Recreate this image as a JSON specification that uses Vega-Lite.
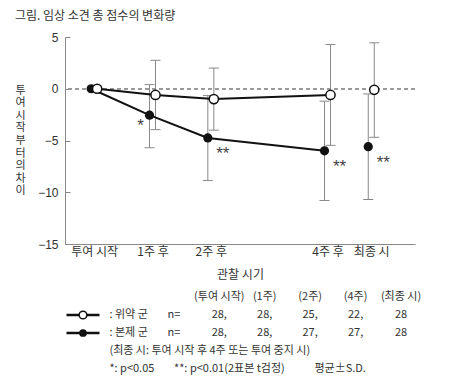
{
  "$schema": "https://vega.github.io/schema/vega-lite/v6.json",
  "padding": {"left": 14, "top": 10, "right": 5, "bottom": 5},
  "title": {"text": "그림. 임상 소견 총 점수의 변화량", "anchor": "start", "fontSize": 12, "fontWeight": "normal", "color": "#333", "font": "Noto Sans CJK KR", "offset": 8},
  "spacing": 8,
  "datasets": {
    "stats": [
      {"group": "위약 군", "time": "투여 시작", "week": 0, "mean": 0, "lo": 0, "hi": 0, "sig": ""},
      {"group": "위약 군", "time": "1주 후", "week": 1, "mean": -0.6, "lo": -3.95, "hi": 2.75, "sig": ""},
      {"group": "위약 군", "time": "2주 후", "week": 2, "mean": -1.0, "lo": -4.0, "hi": 2.0, "sig": ""},
      {"group": "위약 군", "time": "4주 후", "week": 4, "mean": -0.6, "lo": -5.47, "hi": 4.27, "sig": ""},
      {"group": "위약 군", "time": "최종 시", "week": 4.75, "mean": -0.1, "lo": -4.69, "hi": 4.44, "sig": ""},
      {"group": "본제 군", "time": "투여 시작", "week": 0, "mean": 0, "lo": 0, "hi": 0, "sig": ""},
      {"group": "본제 군", "time": "1주 후", "week": 1, "mean": -2.55, "lo": -5.7, "hi": 0.4, "sig": "*"},
      {"group": "본제 군", "time": "2주 후", "week": 2, "mean": -4.75, "lo": -8.86, "hi": -0.66, "sig": "**"},
      {"group": "본제 군", "time": "4주 후", "week": 4, "mean": -6.0, "lo": -10.8, "hi": -1.2, "sig": "**"},
      {"group": "본제 군", "time": "최종 시", "week": 4.75, "mean": -5.6, "lo": -10.7, "hi": -0.5, "sig": "**"}
    ],
    "table": [
      {"row": "hdr", "col": "c0", "text": "(투여 시작)"},
      {"row": "hdr", "col": "c1", "text": "(1주)"},
      {"row": "hdr", "col": "c2", "text": "(2주)"},
      {"row": "hdr", "col": "c4", "text": "(4주)"},
      {"row": "hdr", "col": "cf", "text": "(최종 시)"},
      {"row": "p", "col": "sym", "text": ""},
      {"row": "p", "col": "name", "text": ": 위약 군"},
      {"row": "p", "col": "n", "text": "n="},
      {"row": "p", "col": "c0", "text": "28,"},
      {"row": "p", "col": "c1", "text": "28,"},
      {"row": "p", "col": "c2", "text": "25,"},
      {"row": "p", "col": "c4", "text": "22,"},
      {"row": "p", "col": "cf", "text": "28"},
      {"row": "d", "col": "sym", "text": ""},
      {"row": "d", "col": "name", "text": ": 본제 군"},
      {"row": "d", "col": "n", "text": "n="},
      {"row": "d", "col": "c0", "text": "28,"},
      {"row": "d", "col": "c1", "text": "28,"},
      {"row": "d", "col": "c2", "text": "27,"},
      {"row": "d", "col": "c4", "text": "27,"},
      {"row": "d", "col": "cf", "text": "28"},
      {"row": "f1", "col": "name", "text": "(최종 시: 투여 시작 후 4주 또는 투여 중지 시)"},
      {"row": "f2", "col": "name", "text": "*: p<0.05\u00a0\u00a0\u00a0\u00a0\u00a0\u00a0\u00a0\u00a0**: p<0.01(2표본 t검정)\u00a0\u00a0\u00a0\u00a0\u00a0\u00a0\u00a0\u00a0\u00a0\u00a0\u00a0\u00a0평균±S.D."}
    ]
  },
  "vconcat": [
    {
      "width": 350,
      "height": 207,
      "data": {"name": "stats"},
      "layer": [
        {
          "mark": {"type": "rule", "strokeDash": [4, 3], "color": "#999", "strokeWidth": 1},
          "encoding": {"y": {"datum": 0, "type": "quantitative"}}
        },
        {
          "transform": [{"filter": "datum.group == '위약 군' && datum.week > 0"}],
          "mark": {"type": "rule", "color": "#888", "strokeWidth": 1, "xOffset": 3},
          "encoding": {
            "x": {"field": "week", "type": "quantitative", "scale": {"domain": [-0.5, 5.5], "nice": false, "zero": false},
              "axis": {"values": [0, 1, 2, 4, 4.75], "labelExpr": "datum.value == 0 ? '투여 시작' : datum.value == 1 ? '1주 후' : datum.value == 2 ? '2주 후' : datum.value == 4 ? '4주 후' : '최종 시'", "ticks": false, "grid": false, "domainColor": "#888", "labelFontSize": 12, "labelPadding": 2, "labelColor": "#333", "labelFont": "Noto Sans CJK KR", "labelFlush": false, "labelOverlap": false, "title": "관찰 시기", "titleFontSize": 12, "titleFontWeight": "normal", "titlePadding": 12, "titleColor": "#333", "titleFont": "Noto Sans CJK KR"}},
            "y": {"field": "lo", "type": "quantitative", "scale": {"domain": [-15, 5], "nice": false},
              "axis": {"values": [-15, -10, -5, 0, 5], "grid": false, "tickSize": -5, "tickColor": "#888", "domainColor": "#888", "labelPadding": 12, "labelFontSize": 12, "labelColor": "#333", "labelFont": "Liberation Sans", "title": ["투", "여", "시", "작", "부", "터", "의", "차", "이"], "titleAngle": 0, "titleX": -45, "titleY": 53, "titleAlign": "center", "titleBaseline": "middle", "titleFontSize": 11, "titleFontWeight": "normal", "titleLineHeight": 12.6, "titleColor": "#333", "titleFont": "Noto Sans CJK KR"}},
            "y2": {"field": "hi"}
          }
        },
        {
          "transform": [{"filter": "datum.group == '위약 군' && datum.week > 0"}],
          "mark": {"type": "tick", "orient": "horizontal", "size": 10, "thickness": 1, "color": "#888", "xOffset": 3, "opacity": 1},
          "encoding": {"x": {"field": "week", "type": "quantitative"}, "y": {"field": "lo", "type": "quantitative"}}
        },
        {
          "transform": [{"filter": "datum.group == '위약 군' && datum.week > 0"}],
          "mark": {"type": "tick", "orient": "horizontal", "size": 10, "thickness": 1, "color": "#888", "xOffset": 3, "opacity": 1},
          "encoding": {"x": {"field": "week", "type": "quantitative"}, "y": {"field": "hi", "type": "quantitative"}}
        },
        {
          "transform": [{"filter": "datum.group == '본제 군' && datum.week > 0"}],
          "mark": {"type": "rule", "color": "#888", "strokeWidth": 1, "xOffset": -3},
          "encoding": {"x": {"field": "week", "type": "quantitative"}, "y": {"field": "lo", "type": "quantitative"}, "y2": {"field": "hi"}}
        },
        {
          "transform": [{"filter": "datum.group == '본제 군' && datum.week > 0"}],
          "mark": {"type": "tick", "orient": "horizontal", "size": 10, "thickness": 1, "color": "#888", "xOffset": -3, "opacity": 1},
          "encoding": {"x": {"field": "week", "type": "quantitative"}, "y": {"field": "lo", "type": "quantitative"}}
        },
        {
          "transform": [{"filter": "datum.group == '본제 군' && datum.week > 0"}],
          "mark": {"type": "tick", "orient": "horizontal", "size": 10, "thickness": 1, "color": "#888", "xOffset": -3, "opacity": 1},
          "encoding": {"x": {"field": "week", "type": "quantitative"}, "y": {"field": "hi", "type": "quantitative"}}
        },
        {
          "transform": [{"filter": "datum.group == '위약 군' && datum.time != '최종 시'"}],
          "mark": {"type": "line", "color": "#111", "strokeWidth": 2, "xOffset": 3},
          "encoding": {"x": {"field": "week", "type": "quantitative"}, "y": {"field": "mean", "type": "quantitative"}}
        },
        {
          "transform": [{"filter": "datum.group == '본제 군' && datum.time != '최종 시'"}],
          "mark": {"type": "line", "color": "#111", "strokeWidth": 2, "xOffset": -3},
          "encoding": {"x": {"field": "week", "type": "quantitative"}, "y": {"field": "mean", "type": "quantitative"}}
        },
        {
          "transform": [{"filter": "datum.group == '본제 군'"}],
          "mark": {"type": "circle", "size": 85, "color": "#111", "opacity": 1, "xOffset": -3},
          "encoding": {"x": {"field": "week", "type": "quantitative"}, "y": {"field": "mean", "type": "quantitative"}}
        },
        {
          "transform": [{"filter": "datum.group == '위약 군'"}],
          "mark": {"type": "circle", "size": 85, "fill": "white", "stroke": "#111", "strokeWidth": 1.5, "opacity": 1, "xOffset": 3},
          "encoding": {"x": {"field": "week", "type": "quantitative"}, "y": {"field": "mean", "type": "quantitative"}}
        },
        {
          "transform": [{"filter": "datum.sig == '*'"}],
          "mark": {"type": "text", "fontSize": 17, "color": "#444", "font": "Liberation Sans", "dx": -9, "dy": 11, "xOffset": -3},
          "encoding": {"x": {"field": "week", "type": "quantitative"}, "y": {"field": "mean", "type": "quantitative"}, "text": {"field": "sig"}}
        },
        {
          "transform": [{"filter": "datum.sig == '**'"}],
          "mark": {"type": "text", "fontSize": 17, "color": "#444", "font": "Liberation Sans", "dx": 15, "dy": 16, "xOffset": -3},
          "encoding": {"x": {"field": "week", "type": "quantitative"}, "y": {"field": "mean", "type": "quantitative"}, "text": {"field": "sig"}}
        }
      ]
    },
    {
      "width": 350,
      "height": 90,
      "data": {"name": "table"},
      "encoding": {
        "x": {"field": "col", "type": "nominal", "scale": {"type": "point", "domain": ["sym", "name", "n", "c0", "c1", "c2", "c4", "cf"], "range": [18, 336], "padding": 0}, "axis": null},
        "y": {"field": "row", "type": "nominal", "scale": {"type": "point", "domain": ["hdr", "p", "d", "f1", "f2"], "padding": 0.5}, "axis": null}
      },
      "layer": [
        {
          "transform": [{"filter": "datum.col == 'sym'"}],
          "mark": {"type": "tick", "orient": "horizontal", "size": 33, "thickness": 2.5, "color": "#111", "opacity": 1}
        },
        {
          "transform": [{"filter": "datum.col == 'sym' && datum.row == 'p'"}],
          "mark": {"type": "circle", "size": 60, "fill": "white", "stroke": "#111", "strokeWidth": 1.5, "opacity": 1}
        },
        {
          "transform": [{"filter": "datum.col == 'sym' && datum.row == 'd'"}],
          "mark": {"type": "circle", "size": 60, "color": "#111", "opacity": 1}
        },
        {
          "transform": [{"filter": "datum.col == 'name'"}],
          "mark": {"type": "text", "align": "left", "dx": -19, "fontSize": 11, "color": "#333", "font": "Noto Sans CJK KR"},
          "encoding": {"text": {"field": "text"}}
        },
        {
          "transform": [{"filter": "datum.col != 'name' && datum.col != 'sym'"}],
          "mark": {"type": "text", "align": "center", "fontSize": 11, "color": "#333", "font": "Noto Sans CJK KR"},
          "encoding": {"text": {"field": "text"}}
        }
      ]
    }
  ],
  "config": {"view": {"stroke": null}, "font": "Noto Sans CJK KR"}
}
